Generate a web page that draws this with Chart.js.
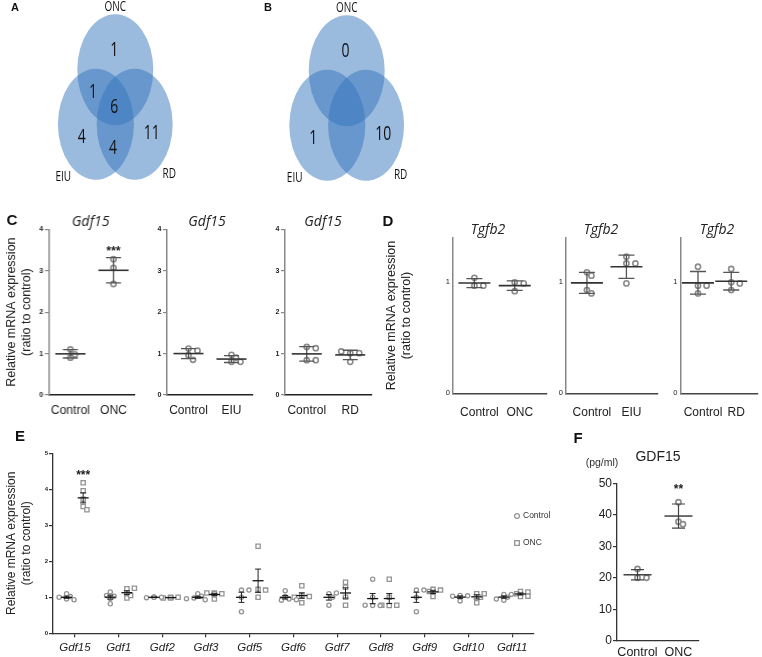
<!DOCTYPE html>
<html>
<head>
<meta charset="utf-8">
<script src="https://cdn.jsdelivr.net/npm/chart.js@4.4.1/dist/chart.umd.min.js"></script>
<style>
  html, body { margin: 0; padding: 0; background: #fff; }
  #page { position: relative; width: 762px; height: 657px; overflow: hidden; }
  #page canvas { position: absolute; }
</style>
</head>
<body>
<div id="page"></div>
<script>
// ── DATA ───────────────────────────────────────────────
const vennSets    = ['ONC', 'EIU', 'RD'];
// regions: ONC only, ONC∩EIU, all three, EIU only, EIU∩RD, RD only
const vennACounts = [1, 1, 6, 4, 4, 11];
const vennBCounts = [0, null, null, 1, null, 10];

const cGene     = 'Gdf15';
const cGroups   = [['Control', 'ONC'], ['Control', 'EIU'], ['Control', 'RD']];
const cControl  = [[1.10, 0.98, 0.90], [1.12, 1.07, 0.96, 0.85], [1.16, 1.13, 0.84, 0.84]];
const cTreated  = [[3.28, 3.07, 2.68], [0.97, 0.90, 0.80, 0.80], [1.01, 1.01, 1.05, 0.80]];
const cTicks    = [0, 1, 2, 3, 4];

const dGene     = 'Tgfb2';
const dGroups   = [['Control', 'ONC'], ['Control', 'EIU'], ['Control', 'RD']];
const dControl  = [[1.04, 0.97, 0.97], [1.09, 1.06, 0.93, 0.90], [1.14, 0.97, 0.97, 0.90]];
const dTreated  = [[1.00, 0.99, 0.92], [1.23, 1.17, 1.17, 0.99], [1.12, 1.00, 0.99, 0.93]];
const dTicks    = [0, 1];

const eGenes    = ['Gdf15', 'Gdf1', 'Gdf2', 'Gdf3', 'Gdf5', 'Gdf6', 'Gdf7', 'Gdf8', 'Gdf9', 'Gdf10', 'Gdf11'];
const eControl  = [
  [1.10, 1.02, 0.95, 0.93, 1.00], [0.82, 0.97, 1.03, 1.05, 1.15], [1.01, 1.00, 0.99, 1.00, 1.00],
  [1.10, 1.03, 0.98, 0.93, 0.96], [1.20, 1.20, 1.00, 0.60],       [1.18, 1.02, 0.95, 0.92, 0.93],
  [1.10, 1.12, 1.00, 0.78],       [1.50, 1.00, 0.77, 0.77, 0.78], [1.20, 1.20, 1.00, 0.60],
  [1.05, 1.04, 1.03, 0.90],       [1.08, 1.08, 1.00, 0.92, 0.95]
];
const eOnc      = [
  [4.18, 3.96, 3.72, 3.52, 3.43], [1.24, 1.25, 1.12, 0.98, 1.05], [0.99, 1.00, 0.98, 1.00, 0.99],
  [1.12, 1.10, 1.12, 1.10, 0.95], [2.42, 1.22, 1.20, 1.00],       [1.32, 1.05, 1.02, 1.00, 0.85],
  [1.42, 1.28, 1.00, 0.78],       [1.50, 1.00, 0.77, 0.78, 0.78], [1.22, 1.20, 1.16, 1.02],
  [1.10, 1.10, 1.00, 0.85],       [1.16, 1.15, 1.10, 1.02, 1.03]
];
const eTicks    = [0, 1, 2, 3, 4, 5];
const eSeries   = ['Control', 'ONC'];

const fTitle    = 'GDF15';
const fGroups   = ['Control', 'ONC'];
const fControl  = [22.8, 20.0, 20.0];
const fOnc      = [44.0, 37.8, 37.0];
const fTicks    = [0, 10, 20, 30, 40, 50];

// ── LAYOUT / STYLE ─────────────────────────────────────
const vennCentres  = [[0, 0.49], [-0.51, -0.49], [0.51, -0.49]];   // in circle radii
const vennSetPos   = [[0, 1.62], [-1.37, -1.43], [1.42, -1.38]];
const vennRegionPos = [[-0.03, 0.85], [-0.59, 0.09], [-0.03, -0.18], [-0.88, -0.72], [-0.06, -0.92], [0.96, -0.66]];
const vennFill = 'rgba(54, 117, 190, 0.5)';
const SANS = '"Liberation Sans", Arial, sans-serif';
const TITLE_FONT = '"Open Sans", "Noto Sans", sans-serif';
const yTitleText = ['Relative mRNA expression', '(ratio to control)'];

Chart.defaults.font.family = SANS;

// ── HELPERS ────────────────────────────────────────────
const page = document.getElementById('page');
function mkCanvas(left, top, w, h) {
  const c = document.createElement('canvas');
  c.width = w; c.height = h;
  Object.assign(c.style, { left: left + 'px', top: top + 'px', width: w + 'px', height: h + 'px' });
  page.appendChild(c);
  return c;
}
const statMean = a => a.reduce((s, v) => s + v, 0) / a.length;
const statSD   = a => { const m = statMean(a); return Math.sqrt(a.reduce((s, v) => s + (v - m) ** 2, 0) / (a.length - 1)); };
const statSEM  = a => statSD(a) / Math.sqrt(a.length);

// simple beeswarm: spread points sideways when they would overlap
function swarm(values, centre, pxX, pxY, diam) {
  const placed = [];
  const steps = [0, 1, -1, 2, -2, 3, -3];
  return values.map(v => {
    let dx = 0;
    for (const s of steps) {
      const tryDx = s * diam * 0.75;
      if (placed.every(p => Math.hypot(p.dx - tryDx, (p.v - v) * pxY) >= diam * 0.85)) { dx = tryDx; break; }
    }
    placed.push({ v, dx });
    return centre + dx / pxX;
  });
}

// mean line + error bar for each dataset carrying a `bar`
const errorBarPlugin = {
  id: 'errorBars',
  afterDatasetsDraw(chart) {
    const { ctx, scales: { x, y } } = chart;
    chart.data.datasets.forEach(ds => {
      const b = ds.bar;
      if (!b) return;
      const px = x.getPixelForValue(b.x);
      const pm = y.getPixelForValue(b.mean), pl = y.getPixelForValue(b.lo), ph = y.getPixelForValue(b.hi);
      ctx.save();
      ctx.strokeStyle = b.barColor; ctx.lineWidth = b.barWidth;
      ctx.beginPath();
      ctx.moveTo(px, pl); ctx.lineTo(px, ph);
      ctx.moveTo(px - b.cap, pl); ctx.lineTo(px + b.cap, pl);
      ctx.moveTo(px - b.cap, ph); ctx.lineTo(px + b.cap, ph);
      ctx.stroke();
      ctx.strokeStyle = b.meanColor; ctx.lineWidth = b.meanWidth;
      ctx.beginPath();
      ctx.moveTo(px - b.half, pm); ctx.lineTo(px + b.half, pm);
      ctx.stroke();
      ctx.restore();
    });
  }
};

// free text / legend marks (canvas px, or data units when data:true)
const textPlugin = items => ({
  id: 'texts',
  afterDraw(chart) {
    const { ctx } = chart;
    items.forEach(t => {
      let px = t.x, py = t.y;
      if (t.data) { px = chart.scales.x.getPixelForValue(t.x); py = chart.scales.y.getPixelForValue(t.y); }
      px += t.dx || 0; py += t.dy || 0;
      ctx.save();
      ctx.translate(px, py);
      if (t.sy) ctx.scale(1, t.sy);
      if (t.shape) {
        ctx.strokeStyle = t.color; ctx.lineWidth = 1.3; ctx.fillStyle = '#fff';
        ctx.beginPath();
        if (t.shape === 'circle') ctx.arc(0, 0, t.size, 0, Math.PI * 2);
        else ctx.rect(-t.size, -t.size, 2 * t.size, 2 * t.size);
        ctx.fill(); ctx.stroke();
      } else {
        ctx.font = t.font; ctx.fillStyle = t.color || '#222';
        ctx.textAlign = t.align || 'center'; ctx.textBaseline = 'middle';
        ctx.fillText(t.text, 0, 0);
      }
      ctx.restore();
    });
  }
});

const vennPlugin = {
  id: 'vennEllipses',
  beforeDatasetsDraw(chart) {
    const { ctx, scales: { x, y } } = chart;
    chart.data.datasets.forEach(ds => {
      if (!ds.venn) return;
      ds.data.forEach(p => {
        const px = x.getPixelForValue(p.x), py = y.getPixelForValue(p.y);
        const rx = x.getPixelForValue(p.x + 1) - px, ry = py - y.getPixelForValue(p.y + 1);
        ctx.save();
        ctx.fillStyle = vennFill;
        ctx.beginPath(); ctx.ellipse(px, py, rx, ry, 0, 0, Math.PI * 2); ctx.fill();
        ctx.restore();
      });
    });
  }
};

// ── VENN ───────────────────────────────────────────────
function vennChart(o) {
  const [cl, ct, cw, ch] = o.canvas;
  const cv = mkCanvas(cl, ct, cw, ch);
  const [cx, cy] = o.centre, [ux, uy] = o.unit;
  const sy = uy / ux;
  const items = [];
  vennSets.forEach((s, i) => items.push({ text: s, x: vennSetPos[i][0], y: vennSetPos[i][1], data: true, sy,
    font: '10px ' + TITLE_FONT, color: '#111' }));
  o.counts.forEach((n, i) => {
    if (n === null) return;
    items.push({ text: String(n), x: vennRegionPos[i][0], y: vennRegionPos[i][1], data: true, sy,
      font: '14px ' + TITLE_FONT, color: '#111' });
  });
  items.push(o.letter);
  new Chart(cv, {
    type: 'scatter',
    data: { datasets: [{ data: vennCentres.map(([x, y]) => ({ x, y })), pointRadius: 0, venn: true }] },
    options: {
      responsive: false, animation: false, devicePixelRatio: 1,
      layout: { padding: 0 },
      plugins: { legend: { display: false }, tooltip: { enabled: false } },
      scales: {
        x: { type: 'linear', display: false, min: -cx / ux, max: (cw - cx) / ux },
        y: { type: 'linear', display: false, min: -(ch - cy) / uy, max: cy / uy }
      }
    },
    plugins: [vennPlugin, textPlugin(items)]
  });
}

// ── DOT PLOTS ──────────────────────────────────────────
function dotChart(o) {
  const [cl, ct, cw, ch] = o.canvas;
  const [L, T, R, B] = o.area;
  const cv = mkCanvas(cl, ct, cw, ch);
  const pxX = (R - L) / (o.xMax - o.xMin), pxY = (B - T) / (o.yMax - o.yMin);
  const datasets = o.groups.map(g => {
    const xs = swarm(g.values, g.x, pxX, pxY, o.diam);
    const m = statMean(g.values), e = o.err(g.values);
    return {
      data: g.values.map((v, i) => ({ x: xs[i], y: v })),
      pointStyle: g.shape || 'circle',
      pointRadius: g.radius || o.radius,
      pointHoverRadius: g.radius || o.radius,
      pointBorderColor: o.pointColor,
      pointBackgroundColor: '#fff',
      pointBorderWidth: o.pointWidth,
      bar: Object.assign({ x: g.x, mean: m, lo: m - e, hi: m + e }, o.bar)
    };
  });
  new Chart(cv, {
    type: 'scatter',
    data: { datasets },
    options: {
      responsive: false, animation: false, devicePixelRatio: 1,
      layout: { padding: { left: 0, top: T - ct, right: cl + cw - R, bottom: 0 } },
      plugins: { legend: { display: false }, tooltip: { enabled: false } },
      scales: {
        x: {
          type: 'linear', min: o.xMin, max: o.xMax,
          afterBuildTicks: s => { s.ticks = o.xLabels.map((_, i) => ({ value: i })); },
          afterFit: s => { s.height = ct + ch - B; },
          grid: { display: o.xTickLen > 0, drawOnChartArea: false, drawTicks: o.xTickLen > 0,
                  tickLength: o.xTickLen, color: o.xColor, lineWidth: 1.2 },
          border: { display: true, color: o.xColor, width: o.xBorderW },
          ticks: { autoSkip: false, maxRotation: 0, padding: o.xPad, labelOffset: o.xLabelOffset || 0,
                   font: o.xFont, color: '#222', callback: (v, i) => o.xLabels[i] }
        },
        y: {
          type: 'linear', min: o.yMin, max: o.yMax,
          afterBuildTicks: s => { s.ticks = o.yTicks.map(v => ({ value: v })); },
          afterFit: s => { s.width = L - cl; },
          grid: { display: true, drawOnChartArea: false, drawTicks: o.yTickLen > 0,
                  tickLength: o.yTickLen, color: o.yColor, lineWidth: 1.2 },
          border: { display: true, color: o.yColor, width: o.yBorderW },
          ticks: { padding: o.yPad, font: o.yFont, color: '#222' },
          title: o.yTitle
            ? { display: true, text: o.yTitle, font: o.yTitleFont, color: '#222', padding: { top: o.yTitlePad, bottom: 0 } }
            : { display: false }
        }
      }
    },
    plugins: [errorBarPlugin, textPlugin(o.texts || [])]
  });
}

// ── PANEL A / B ────────────────────────────────────────
vennChart({ canvas: [0, 0, 250, 195], centre: [115.3, 97], unit: [38, 55.5], counts: vennACounts,
  letter: { text: 'A', x: 15, y: 8, font: 'bold 11px ' + SANS, color: '#111' } });
vennChart({ canvas: [250, 0, 260, 195], centre: [96.7, 98], unit: [38, 55.5], counts: vennBCounts,
  letter: { text: 'B', x: 18, y: 8, font: 'bold 11px ' + SANS, color: '#111' } });

// ── PANEL C ────────────────────────────────────────────
const cBoxes = [[0, 48.5, 134.5], [140, 167, 253], [258, 285, 372]];
const cTitleX = [90, 207, 323];
cBoxes.forEach(([cl, L, R], i) => {
  const texts = [{ text: cGene, x: cTitleX[i] - cl, y: 10, font: 'italic 14px ' + TITLE_FONT, color: '#222' }];
  if (i === 0) {
    texts.push({ text: 'C', x: 12, y: 9, font: 'bold 15px ' + SANS, color: '#111' });
    texts.push({ text: '***', x: 1, y: 3.52, data: true, dy: 3, font: 'bold 12px ' + SANS, color: '#222' });
  }
  dotChart({
    canvas: [cl, 212, R + 5 - cl, 205], area: [L, 229.3, R, 395],
    xMin: -0.5, xMax: 1.5, xLabels: cGroups[i], xFont: { size: 12 }, xPad: 8.5, xTickLen: 0,
    xColor: '#222', xBorderW: 1.5,
    yMin: 0, yMax: 4, yTicks: cTicks, yFont: { size: 7, weight: 'bold' }, yPad: 1.5, yTickLen: 4,
    yColor: '#888', yBorderW: 1.5,
    yTitle: i === 0 ? yTitleText : null, yTitleFont: { size: 12.5, lineHeight: 1.2 }, yTitlePad: 4.5,
    groups: [{ x: 0, values: cControl[i] }, { x: 1, values: cTreated[i] }],
    err: statSD, diam: 6, radius: 2.6, pointColor: '#8c8c8c', pointWidth: 1.6,
    bar: { half: 15, cap: 7.5, meanColor: '#333', meanWidth: 1.6, barColor: '#555', barWidth: 1.3 },
    texts
  });
});

// ── PANEL D ────────────────────────────────────────────
const dBoxes = [[380, 453, 547], [552, 566, 658], [663, 679, 760]];
const dTitleX = [488, 601, 717];
dBoxes.forEach(([cl, L, R], i) => {
  const texts = [{ text: dGene, x: dTitleX[i] - cl, y: 18, font: 'italic 14px ' + TITLE_FONT, color: '#222' }];
  if (i === 0) texts.push({ text: 'D', x: 8, y: 10, font: 'bold 15px ' + SANS, color: '#111' });
  dotChart({
    canvas: [cl, 212, Math.min(R + 5, 762) - cl, 208], area: [L, 237.9, R, 393.3],
    xMin: -0.53, xMax: 1.8, xLabels: dGroups[i], xFont: { size: 12 }, xPad: 12, xLabelOffset: 5, xTickLen: 0,
    xColor: '#444', xBorderW: 1.5,
    yMin: 0, yMax: 1.4, yTicks: dTicks, yFont: { size: 7.5 }, yPad: 3, yTickLen: 0,
    yColor: '#888', yBorderW: 1.5,
    yTitle: i === 0 ? yTitleText : null, yTitleFont: { size: 12.5, lineHeight: 1.2 }, yTitlePad: 4.2,
    groups: [{ x: 0, values: dControl[i] }, { x: 1, values: dTreated[i] }],
    err: statSD, diam: 6, radius: 2.6, pointColor: '#8c8c8c', pointWidth: 1.6,
    bar: { half: 16, cap: 8, meanColor: '#333', meanWidth: 1.6, barColor: '#555', barWidth: 1.3 },
    texts
  });
});

// ── PANEL E ────────────────────────────────────────────
const eOffset = 0.19;
const eGroupsAll = [];
eGenes.forEach((g, i) => {
  eGroupsAll.push({ x: i - eOffset, values: eControl[i], shape: 'circle', radius: 2.1 });
  eGroupsAll.push({ x: i + eOffset, values: eOnc[i], shape: 'rect', radius: 3.0 });
});
dotChart({
  canvas: [0, 420, 560, 237], area: [53, 453.3, 534, 633.3],
  xMin: -0.5, xMax: 10.5, xLabels: eGenes, xFont: { size: 11.5, style: 'italic' }, xPad: 4, xTickLen: 4,
  xColor: '#333', xBorderW: 1.3,
  yMin: 0, yMax: 5, yTicks: eTicks, yFont: { size: 6, weight: 'bold' }, yPad: 1, yTickLen: 4,
  yColor: '#333', yBorderW: 1.3,
  yTitle: yTitleText, yTitleFont: { size: 12, lineHeight: 1.25 }, yTitlePad: 4.5,
  groups: eGroupsAll,
  err: statSEM, diam: 5, radius: 2.1, pointColor: '#939393', pointWidth: 1.3,
  bar: { half: 5.5, cap: 3, meanColor: '#111', meanWidth: 1.3, barColor: '#222', barWidth: 1 },
  texts: [
    { text: 'E', x: 20, y: 17, font: 'bold 15px ' + SANS, color: '#111' },
    { text: '***', x: eOffset, y: 4.45, data: true, dy: 3, font: 'bold 12px ' + SANS, color: '#222' },
    { shape: 'circle', x: 517, y: 96, size: 2.4, color: '#939393' },
    { text: eSeries[0], x: 523, y: 96, align: 'left', font: '8.5px ' + SANS, color: '#333' },
    { shape: 'rect', x: 517, y: 123, size: 2.3, color: '#939393' },
    { text: eSeries[1], x: 523, y: 123, align: 'left', font: '8.5px ' + SANS, color: '#333' }
  ]
});

// ── PANEL F ────────────────────────────────────────────
dotChart({
  canvas: [560, 425, 202, 232], area: [617, 483.3, 699, 640.7],
  xMin: -0.5, xMax: 1.5, xLabels: fGroups, xFont: { size: 12.5 }, xPad: 4, xTickLen: 0,
  xColor: '#333', xBorderW: 1.3,
  yMin: 0, yMax: 50, yTicks: fTicks, yFont: { size: 12 }, yPad: 1, yTickLen: 4,
  yColor: '#333', yBorderW: 1.3,
  yTitle: null,
  groups: [{ x: 0, values: fControl }, { x: 1, values: fOnc }],
  err: statSD, diam: 6, radius: 2.6, pointColor: '#8c8c8c', pointWidth: 1.6,
  bar: { half: 14, cap: 6.5, meanColor: '#333', meanWidth: 1.4, barColor: '#444', barWidth: 1.2 },
  texts: [
    { text: 'F', x: 18, y: 14, font: 'bold 15px ' + SANS, color: '#111' },
    { text: fTitle, x: 98, y: 32, font: '14px ' + SANS, color: '#222' },
    { text: '(pg/ml)', x: 42, y: 38, font: '10.5px ' + SANS, color: '#333' },
    { text: '**', x: 1, y: 48.8, data: true, dy: 3, font: 'bold 12px ' + SANS, color: '#222' }
  ]
});
</script>
</body>
</html>
